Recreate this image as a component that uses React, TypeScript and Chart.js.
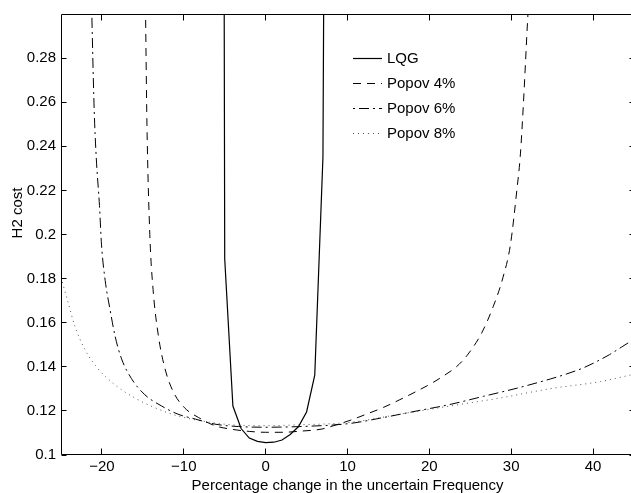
import React, { useEffect, useRef } from 'react';
import { Chart, registerables } from 'chart.js';

Chart.register(...registerables);

// ---- data ----
const xTicks = [-20, -10, 0, 10, 20, 30, 40];
const yTicks = [0.1, 0.12, 0.14, 0.16, 0.18, 0.2, 0.22, 0.24, 0.26, 0.28];

const seriesNames = ['LQG', 'Popov 4%', 'Popov 6%', 'Popov 8%'];

const lqgX = [-6, -5, -4, -3, -2, -1, 0, 1, 2, 3, 4, 5, 6, 7, 8];
const lqgY = [2.0, 0.189, 0.1222, 0.112, 0.1077, 0.1062, 0.1056, 0.1058, 0.1068, 0.1093, 0.1128, 0.1195, 0.1362, 0.235, 1.0];

const p4X = [-14.7, -14.5, -14.15, -13.75, -13.1, -12.3, -11.3, -9.9, -8.2, -6.2, -4.2, -2, 0, 2, 4.2, 6.9, 8.3, 10.3, 12.3, 14.4, 16.4, 18.5, 20.5, 21.7, 23.3, 24.6, 26.4, 27.8, 29.0, 29.9, 30.7, 31.1, 31.5, 32.0, 32.2];
const p4Y = [0.31, 0.25, 0.2, 0.175, 0.154, 0.1392, 0.1288, 0.1214, 0.117, 0.1133, 0.1117, 0.1107, 0.1103, 0.1103, 0.1108, 0.1118, 0.1133, 0.1157, 0.1185, 0.1216, 0.1251, 0.129, 0.133, 0.1358, 0.14, 0.1451, 0.1554, 0.1673, 0.1806, 0.1953, 0.2205, 0.2353, 0.26, 0.297, 0.31];

const p6X = [-21.3, -20.95, -20.7, -20.3, -20.05, -19.6, -19.0, -18.4, -17.6, -16.4, -14.75, -12.7, -10.7, -8.6, -6.2, -3.3, 0, 4.2, 10.3, 14.4, 18.5, 22.5, 26.6, 30.7, 34.8, 36.8, 38.8, 40.5, 42.0, 43.5, 45];
const p6Y = [0.31, 0.257, 0.2353, 0.2131, 0.1953, 0.1791, 0.1658, 0.154, 0.1436, 0.1347, 0.1273, 0.1222, 0.1185, 0.1163, 0.114, 0.1129, 0.1126, 0.1129, 0.1143, 0.117, 0.12, 0.1229, 0.1266, 0.1303, 0.1345, 0.1368, 0.1395, 0.1425, 0.1455, 0.149, 0.1525];

const p8X = [-25, -24.1, -23.3, -22.1, -20.5, -18.4, -16.0, -13.5, -10.7, -7.4, -4.2, 0, 4.2, 10.3, 16.4, 22.5, 28.7, 34.8, 40.9, 44.5, 45];
const p8Y = [0.1806, 0.1687, 0.1584, 0.148, 0.1392, 0.1318, 0.1259, 0.1214, 0.1177, 0.1152, 0.1137, 0.1133, 0.1137, 0.1148, 0.1185, 0.1222, 0.1259, 0.1301, 0.1333, 0.1362, 0.1366];

const xTitle = 'Percentage change in the uncertain Frequency';
const yTitle = 'H2 cost';

const FONT = '"Liberation Sans", Arial, Helvetica, sans-serif';

export default function App() {
  const ref = useRef<HTMLCanvasElement>(null);

  useEffect(() => {
    if (!ref.current) return;
    const pts = (xs: number[], ys: number[]) => xs.map((x, i) => ({ x, y: ys[i] }));
    const styles = [
      { dash: [] as number[], width: 1.2, color: '#000', mode: 'default' },
      { dash: [8, 6], width: 1, color: '#000', mode: 'monotone' },
      { dash: [2, 4, 10, 4], width: 1, color: '#000', mode: 'monotone' },
      { dash: [1, 4], width: 1, color: '#555', mode: 'monotone' },
    ];
    const all = [pts(lqgX, lqgY), pts(p4X, p4Y), pts(p6X, p6Y), pts(p8X, p8Y)];
    const datasets = all.map((d, i) => ({
      label: seriesNames[i],
      data: d,
      borderColor: styles[i].color,
      borderWidth: styles[i].width,
      borderDash: styles[i].dash,
      pointRadius: 0,
      fill: false,
      tension: 0,
      cubicInterpolationMode: styles[i].mode as any,
    }));

    const framePlugin = {
      id: 'frame',
      afterDraw(chart: any) {
        const { ctx, chartArea } = chart;
        const { left, right, top, bottom } = chartArea;
        const xs = chart.scales.x;
        const ys = chart.scales.y;
        ctx.save();
        ctx.strokeStyle = '#000';
        ctx.lineWidth = 1;
        ctx.setLineDash([]);
        const L = Math.floor(left) + 0.5;
        const R = Math.floor(right) + 0.5;
        const T = Math.floor(top) + 0.5;
        const B = Math.floor(bottom) - 0.5;
        ctx.beginPath();
        ctx.moveTo(L, T); ctx.lineTo(R, T); ctx.lineTo(R, B); ctx.lineTo(L, B); ctx.closePath();
        ctx.stroke();
        ctx.beginPath();
        xs.ticks.forEach((t: any) => {
          const px = Math.floor(xs.getPixelForValue(t.value)) + 0.5;
          ctx.moveTo(px, B); ctx.lineTo(px, B - 6);
          ctx.moveTo(px, T); ctx.lineTo(px, T + 6);
        });
        ys.ticks.forEach((t: any) => {
          const py = Math.floor(ys.getPixelForValue(t.value)) + 0.5;
          ctx.moveTo(L, py); ctx.lineTo(L + 5, py);
          ctx.moveTo(R, py); ctx.lineTo(R - 5, py);
        });
        ctx.stroke();

        // y title
        ctx.fillStyle = '#000';
        ctx.font = '15px ' + FONT;
        ctx.textAlign = 'center';
        ctx.textBaseline = 'middle';
        ctx.save();
        ctx.translate(17.5, 213);
        ctx.rotate(-Math.PI / 2);
        ctx.fillText(yTitle, 0, 0);
        ctx.restore();

        // legend
        const lx0 = 353, lx1 = 382, tx = 387;
        datasets.forEach((ds, i) => {
          const ly = 58.5 + i * 25;
          ctx.beginPath();
          ctx.strokeStyle = ds.borderColor;
          ctx.lineWidth = ds.borderWidth;
          ctx.setLineDash(ds.borderDash);
          ctx.moveTo(lx0, ly); ctx.lineTo(lx1, ly);
          ctx.stroke();
          ctx.setLineDash([]);
          ctx.textAlign = 'left';
          ctx.fillText(ds.label, tx, ly);
        });
        ctx.restore();
      },
    };

    const chart = new Chart(ref.current, {
      type: 'line',
      data: { datasets: datasets as any },
      options: {
        responsive: false,
        animation: false,
        devicePixelRatio: 1,
        layout: { padding: { top: 4, right: 6, left: 0, bottom: 0 } },
        plugins: { legend: { display: false }, tooltip: { enabled: false } },
        scales: {
          x: {
            type: 'linear',
            min: -25,
            max: 45,
            afterBuildTicks: (s: any) => { s.ticks = xTicks.map((v) => ({ value: v })); },
            afterFit: (s: any) => { s.height = 38; },
            grid: { display: false, drawTicks: false },
            border: { display: false },
            ticks: {
              padding: 3,
              color: '#000',
              maxRotation: 0,
              autoSkip: false,
              font: { size: 15, family: FONT },
              callback: (v: any) => (v < 0 ? '\u2212' + Math.abs(v) : String(v)),
            },
            title: {
              display: true,
              text: xTitle,
              color: '#000',
              font: { size: 15, family: FONT, lineHeight: 1 },
              padding: 0,
            },
          },
          y: {
            type: 'linear',
            min: 0.1,
            max: 0.3,
            afterBuildTicks: (s: any) => { s.ticks = yTicks.map((v) => ({ value: v })); },
            afterFit: (s: any) => { s.width = 61; },
            grid: { display: false, drawTicks: false },
            border: { display: false },
            ticks: {
              padding: 5,
              color: '#000',
              autoSkip: false,
              font: { size: 15, family: FONT },
              callback: (v: any) => String(Number(Number(v).toFixed(2))),
            },
          },
        },
      },
      plugins: [framePlugin],
    });
    return () => chart.destroy();
  }, []);

  return (
    <div style={{ position: 'fixed', left: 0, top: 0, width: 631, height: 493, overflow: 'hidden', background: '#fff' }}>
      <canvas ref={ref} width={640} height={493} style={{ display: 'block' }} />
    </div>
  );
}
